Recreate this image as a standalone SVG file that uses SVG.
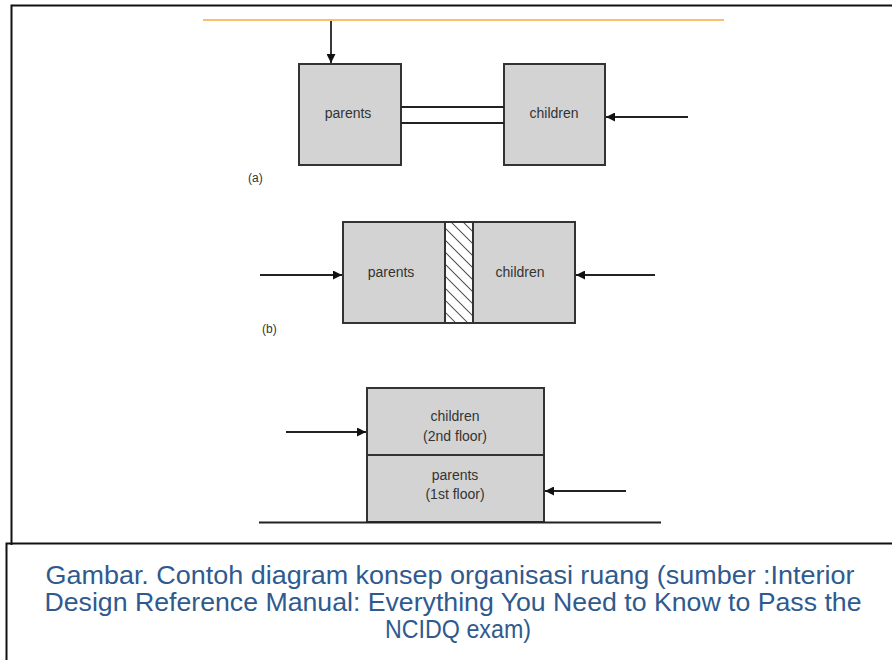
<svg xmlns="http://www.w3.org/2000/svg" width="892" height="660" viewBox="0 0 892 660">
<style>
.box{fill:#d3d3d3;stroke:#333;stroke-width:2}
.lbl{font-family:"Liberation Sans",Arial,sans-serif;font-size:14px;fill:#333;text-anchor:middle}
.tag{font-family:"Liberation Sans",Arial,sans-serif;font-size:12px;fill:#333}
.ln{stroke:#222;stroke-width:1.8;fill:none}
.cap{font-family:"Liberation Sans",Arial,sans-serif;font-size:25px;fill:#2f5a8e;text-anchor:middle}
</style>
<defs>
<marker id="ah" viewBox="0 0 10 10" refX="10" refY="5" markerWidth="17" markerHeight="9" markerUnits="userSpaceOnUse" orient="auto">
<path d="M0,0 L10,5 L0,10 Z" fill="#111"/>
</marker>
<pattern id="hatch" patternUnits="userSpaceOnUse" width="8.5" height="8.5" patternTransform="rotate(-45)">
<rect width="8.5" height="8.5" fill="#fff"/>
<line x1="0" y1="0" x2="0" y2="8.5" stroke="#222" stroke-width="1.5"/>
</pattern>
</defs>
<rect width="892" height="660" fill="#fff"/>
<!-- frames -->
<path d="M11.5,545 V5.5 H892" stroke="#111" stroke-width="2" fill="none"/>
<path d="M6.5,660 V543.5 H892" stroke="#111" stroke-width="2" fill="none"/>
<line x1="203" y1="20" x2="724" y2="20" stroke="#f5c26b" stroke-width="2"/>
<!-- (a) -->
<g id="a-parents"><rect class="box" x="299" y="64" width="102" height="101"/><text class="lbl" x="348" y="118">parents</text></g>
<g id="a-children"><rect class="box" x="504" y="64" width="101" height="101"/><text class="lbl" x="554" y="118">children</text></g>
<text class="tag" x="248" y="182">(a)</text>
<!-- (b) -->
<g id="b-parents"><rect class="box" x="343" y="222" width="102" height="101"/><text class="lbl" x="391" y="277">parents</text></g>
<g id="b-wall"><rect x="445" y="222" width="28" height="101" fill="url(#hatch)" stroke="#333" stroke-width="2"/></g>
<g id="b-children"><rect class="box" x="473" y="222" width="102" height="101"/><text class="lbl" x="520" y="277">children</text></g>
<text class="tag" x="262" y="333">(b)</text>
<!-- (c) -->
<g id="c-children"><rect class="box" x="367" y="388" width="177" height="67"/><text class="lbl" x="455" y="421">children</text><text class="lbl" x="455" y="441">(2nd floor)</text></g>
<g id="c-parents"><rect class="box" x="367" y="455" width="177" height="67"/><text class="lbl" x="455" y="480">parents</text><text class="lbl" x="455" y="499">(1st floor)</text></g>
<g id="connectors">
<line class="ln" x1="331" y1="21" x2="331" y2="63" marker-end="url(#ah)"/>
<line class="ln" x1="401" y1="107" x2="504" y2="107"/>
<line class="ln" x1="401" y1="123" x2="504" y2="123"/>
<line class="ln" x1="688" y1="117" x2="606" y2="117" marker-end="url(#ah)"/>
<line class="ln" x1="260" y1="275" x2="342" y2="275" marker-end="url(#ah)"/>
<line class="ln" x1="655" y1="275" x2="576" y2="275" marker-end="url(#ah)"/>
<line class="ln" x1="286" y1="432" x2="366" y2="432" marker-end="url(#ah)"/>
<line class="ln" x1="626" y1="491" x2="545" y2="491" marker-end="url(#ah)"/>
<line x1="259" y1="522.5" x2="661" y2="522.5" stroke="#222" stroke-width="2"/>
</g>
<text class="cap" x="450" y="584" textLength="809" lengthAdjust="spacingAndGlyphs">Gambar. Contoh diagram konsep organisasi ruang (sumber :Interior</text>
<text class="cap" x="453" y="611" textLength="817" lengthAdjust="spacingAndGlyphs">Design Reference Manual: Everything You Need to Know to Pass the</text>
<text class="cap" x="458" y="638" textLength="146" lengthAdjust="spacingAndGlyphs">NCIDQ exam)</text>
</svg>
